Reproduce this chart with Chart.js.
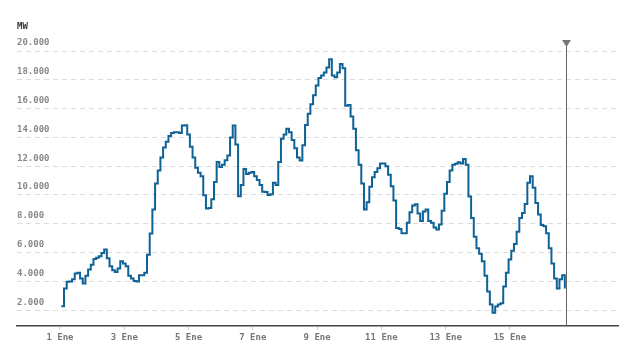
<!DOCTYPE html>
<html>
<head>
<meta charset="utf-8">
<script src="https://cdn.jsdelivr.net/npm/chart.js@4/dist/chart.umd.min.js"></script>
<style>
    html, body { margin: 0; padding: 0; background: #fff; }
    #wrap { width: 631px; height: 354px; }
</style>
</head>
<body>
<div id="wrap"><canvas id="mwChart"></canvas></div>
<script>
// valores cada 2 horas desde el 1 Ene 01:00 (MW)
const startHour = 1;
const stepHours = 2;
const mwValues = [
    2280, 3500, 3970, 4000, 4150, 4550, 4600, 4200, 3850, 4400,
    4820, 5150, 5550, 5650, 5750, 5980, 6220, 5600, 5050, 4780,
    4660, 4900, 5400, 5250, 5060, 4400, 4200, 4030, 4000, 4430,
    4430, 4600, 5850, 7330, 9000, 10800, 11700, 12600, 13300, 13700,
    14100, 14300, 14350, 14350, 14300, 14820, 14850, 14200, 13350, 12600,
    11900, 11550, 11300, 9990, 9070, 9100, 9700, 10900, 12300, 11950,
    12100, 12420, 12750, 14000, 14820, 13500, 9920, 10700, 11800, 11450,
    11550, 11600, 11300, 11050, 10700, 10220, 10200, 10000, 10050, 10850,
    10700, 12300, 13900, 14200, 14600, 14350, 13820, 13250, 12600, 12400,
    13450, 14860, 15650, 16300, 16930, 17600, 18120, 18300, 18500, 18850,
    19420, 18300, 18180, 18500, 19100, 18800, 16200, 16250, 15450, 14600,
    13100, 12100, 10800, 9000, 9500, 10570, 11230, 11600, 11850, 12190,
    12190, 12000, 11400, 10600, 9620, 7700, 7640, 7340, 7350, 8080,
    8800, 9270, 9360, 8720, 8200, 8850, 9000, 8200, 8080, 7740,
    7600, 7950, 8900, 10080, 10900, 11700, 12100, 12170, 12280, 12180,
    12500, 12100, 9900, 8400, 7100, 6300, 5920, 5400, 4400, 3300,
    2400, 1830, 2250, 2400, 2480, 3650, 4600, 5520, 6130, 6600,
    7450, 8400, 8750, 9380, 10850, 11300, 10500, 9450, 8650, 7910,
    7830, 7350, 6300, 5250, 4200, 3510, 4150, 4430, 3500
];
const yTicks = [2000, 4000, 6000, 8000, 10000, 12000, 14000, 16000, 18000, 20000];
const xTickHours = [0, 48, 96, 144, 192, 240, 288, 336];
const xTickLabels = ['1 Ene', '3 Ene', '5 Ene', '7 Ene', '9 Ene', '11 Ene', '13 Ene', '15 Ene'];
const nowHour = 377.6;

const points = mwValues.map((v, i) => ({ x: startHour + i * stepHours, y: v }));
const monoFont = 'DejaVu Sans Mono, monospace';

function formatMW(v) {
    return String(v).replace(/\B(?=(\d{3})+(?!\d))/g, '.');
}

const markerPlugin = {
    id: 'nowMarker',
    afterDatasetsDraw(chart) {
        const ctx = chart.ctx;
        const area = chart.chartArea;
        const x = Math.round(chart.scales.x.getPixelForValue(nowHour)) + 0.5;
        ctx.save();
        ctx.strokeStyle = '#666';
        ctx.lineWidth = 1;
        ctx.beginPath();
        ctx.moveTo(x, area.top + 5);
        ctx.lineTo(x, area.bottom);
        ctx.stroke();
        ctx.fillStyle = '#777';
        ctx.beginPath();
        ctx.moveTo(x - 4.5, area.top);
        ctx.lineTo(x + 4.5, area.top);
        ctx.lineTo(x, area.top + 7);
        ctx.closePath();
        ctx.fill();

        ctx.fillStyle = '#333';
        ctx.font = 'bold 9px ' + monoFont;
        ctx.textBaseline = 'middle';
        ctx.fillText('MW', 17, 27);
        ctx.restore();
    }
};

new Chart(document.getElementById('mwChart'), {
    type: 'line',
    data: {
        datasets: [{
            data: points,
            borderColor: '#0f6296',
            borderWidth: 2,
            pointRadius: 0,
            stepped: true,
            fill: false,
        }]
    },
    options: {
        responsive: true,
        maintainAspectRatio: false,
        animation: false,
        layout: { padding: { top: 40, left: 17, right: 13, bottom: 7.5 } },
        plugins: {
            legend: { display: false },
            tooltip: { enabled: false }
        },
        scales: {
            x: {
                type: 'linear',
                min: -32.1,
                max: 416.7,
                afterBuildTicks(scale) {
                    scale.ticks = xTickHours.map(v => ({ value: v }));
                },
                grid: {
                    drawOnChartArea: false,
                    drawTicks: true,
                    tickLength: 4,
                    color: '#cfcfcf'
                },
                border: { color: '#444', width: 1.5 },
                ticks: {
                    autoSkip: false,
                    maxRotation: 0,
                    padding: 3,
                    color: '#777',
                    font: { family: monoFont, size: 9, weight: 'bold' },
                    callback: (value, index) => xTickLabels[index]
                }
            },
            y: {
                min: 923,
                max: 20764,
                afterBuildTicks(scale) {
                    scale.ticks = yTicks.map(v => ({ value: v }));
                },
                grid: {
                    color: '#dcdcdc',
                    drawTicks: false
                },
                border: { display: false, dash: [5, 4] },
                ticks: {
                    mirror: true,
                    padding: 0,
                    labelOffset: -8,
                    color: '#888',
                    font: { family: monoFont, size: 9, weight: 'bold' },
                    callback: v => formatMW(v)
                }
            }
        }
    },
    plugins: [markerPlugin]
});
</script>
</body>
</html>
